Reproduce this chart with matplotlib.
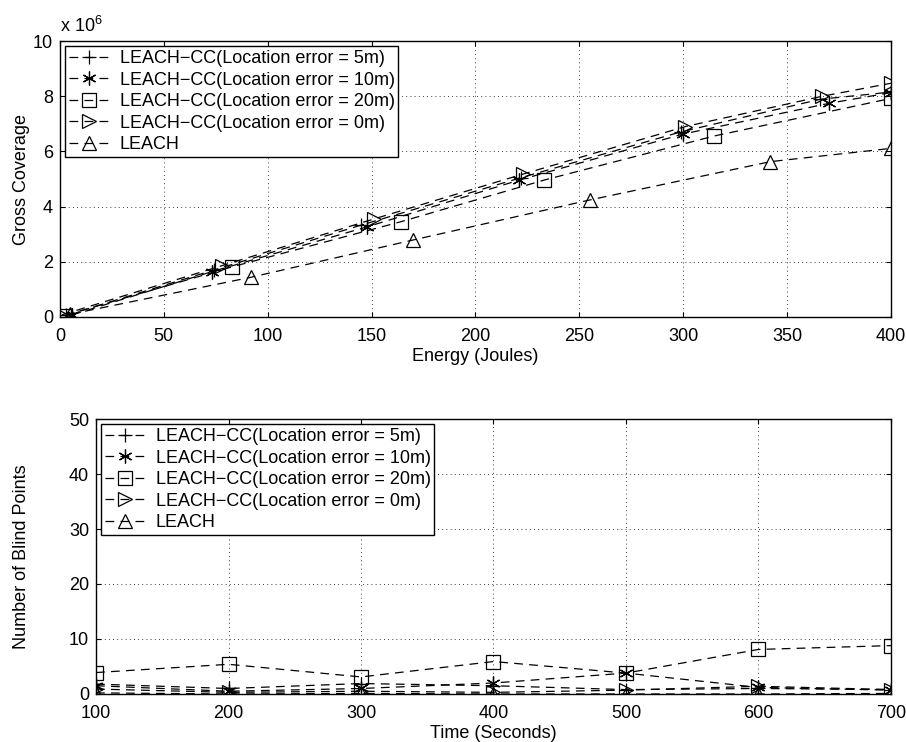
import matplotlib.pyplot as plt

plt.rcParams['font.family'] = ['Liberation Sans', 'DejaVu Sans']
plt.rcParams['font.size'] = 13
plt.rcParams['mathtext.fontset'] = 'custom'
plt.rcParams['mathtext.rm'] = 'Liberation Sans'

labels = ['LEACH\u2212CC(Location error = 5m)',
          'LEACH\u2212CC(Location error = 10m)',
          'LEACH\u2212CC(Location error = 20m)',
          'LEACH\u2212CC(Location error = 0m)',
          'LEACH']
# '+', asterisk, square, right triangle, up triangle
markers = ['+', (6, 2, 0), 's', '>', '^']

# Gross coverage (x 10^6) vs energy
e_5m = [3, 74, 145, 222, 299, 366, 400]
c_5m = [0.06, 1.70, 3.33, 5.05, 6.71, 7.89, 8.15]
e_10m = [6, 73, 148, 221, 300, 370, 400]
c_10m = [0.08, 1.64, 3.27, 4.96, 6.63, 7.74, 8.13]
e_20m = [2, 83, 164, 233, 315, 400]
c_20m = [0.05, 1.82, 3.45, 4.96, 6.56, 7.92]
e_0m = [1, 78, 151, 223, 301, 367, 400]
c_0m = [0.08, 1.86, 3.55, 5.18, 6.90, 8.00, 8.47]
e_leach = [5, 92, 170, 255, 342, 400]
c_leach = [0.10, 1.44, 2.79, 4.24, 5.63, 6.11]

# Blind points vs time
t = [100, 200, 300, 400, 500, 600, 700]
b_5m = [1.8, 1.0, 1.9, 1.5, 0.8, 1.0, 0.8]
b_10m = [1.5, 0.5, 1.0, 2.0, 3.8, 1.2, 0.7]
b_20m = [3.9, 5.4, 3.1, 5.9, 3.8, 8.1, 8.8]
b_0m = [0.9, 0.3, 0.5, 0.3, 0.7, 1.4, 0.8]
b_leach = [0.2, 0.0, 0.1, 0.0, 0.0, 0.0, 0.1]

top_series = [(e_5m, c_5m), (e_10m, c_10m), (e_20m, c_20m), (e_0m, c_0m), (e_leach, c_leach)]
bot_series = [b_5m, b_10m, b_20m, b_0m, b_leach]

fig = plt.figure(figsize=(9.06, 7.42), dpi=100)
ax1 = fig.add_axes([0.0662, 0.5728, 0.9172, 0.3719])
ax2 = fig.add_axes([0.106, 0.0647, 0.8774, 0.3706])

style = dict(color='black', linestyle=(0, (7, 5)), linewidth=0.9,
             markerfacecolor='none', markeredgecolor='black', markersize=10, markeredgewidth=0.9)

for (x, y), m, lab in zip(top_series, markers, labels):
    ax1.plot(x, y, marker=m, label=lab, **style)
for y, m, lab in zip(bot_series, markers, labels):
    ax2.plot(t, y, marker=m, label=lab, **style)

ax1.set_xlim(0, 400)
ax1.set_ylim(0, 10)
ax1.set_xticks(range(0, 401, 50))
ax1.set_yticks(range(0, 11, 2))
ax1.set_xlabel('Energy (Joules)', labelpad=2)
ax1.set_ylabel('Gross Coverage')
ax1.yaxis.set_label_coords(-0.036, 0.5)
ax1.text(0, 1.02, 'x 10$^{6}$', transform=ax1.transAxes, fontsize=13, va='bottom')

ax2.set_xlim(100, 700)
ax2.set_ylim(0, 50)
ax2.set_xticks(range(100, 701, 100))
ax2.set_yticks(range(0, 51, 10))
ax2.set_xlabel('Time (Seconds)', labelpad=2)
ax2.set_ylabel('Number of Blind Points')
ax2.yaxis.set_label_coords(-0.083, 0.5)

for ax in (ax1, ax2):
    ax.grid(True, linestyle=(0, (1, 4)), color='black', linewidth=0.6)
    ax.tick_params(direction='in', top=True, right=True, labelsize=13)
    ax.tick_params(axis='x', pad=8)
    ax.tick_params(axis='y', pad=5)
    for s in ax.spines.values():
        s.set_linewidth(1.0)
    leg = ax.legend(loc='upper left', fancybox=False, edgecolor='black', framealpha=1,
                    handlelength=2.2, borderaxespad=0.3, labelspacing=0.25, fontsize=13,
                    borderpad=0.2, handletextpad=0.6)
    leg.get_frame().set_linewidth(1.0)

fig.savefig('out.png', dpi=100)
